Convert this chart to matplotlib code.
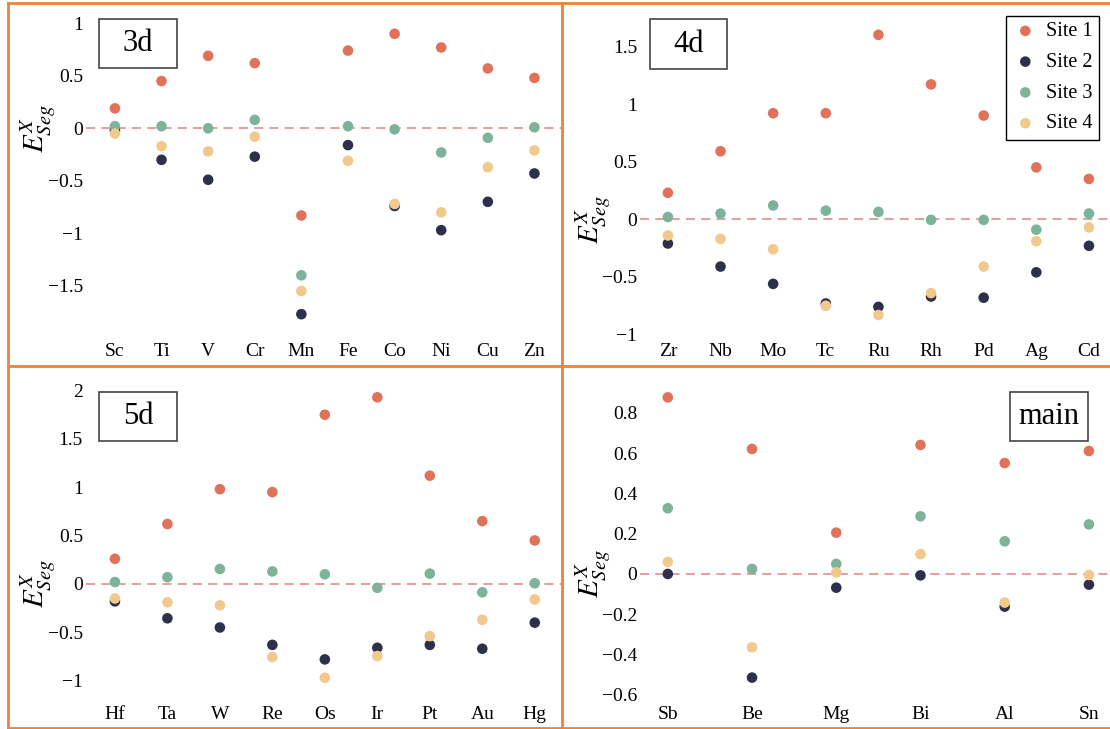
import matplotlib
matplotlib.use("Agg")
import matplotlib.pyplot as plt
from matplotlib.lines import Line2D
from matplotlib.patches import Rectangle
from matplotlib.transforms import blended_transform_factory

plt.rcParams["font.family"] = ["Liberation Serif", "DejaVu Serif"]
plt.rcParams["mathtext.fontset"] = "stix"

# segregation energies per solute, four sites each
elements_3d = ["Sc", "Ti", "V", "Cr", "Mn", "Fe", "Co", "Ni", "Cu", "Zn"]
site1_3d = [0.19, 0.45, 0.69, 0.62, -0.83, 0.74, 0.90, 0.77, 0.57, 0.48]
site2_3d = [-0.02, -0.30, -0.49, -0.27, -1.77, -0.16, -0.74, -0.97, -0.70, -0.43]
site3_3d = [0.02, 0.02, 0.00, 0.08, -1.40, 0.02, -0.01, -0.23, -0.09, 0.01]
site4_3d = [-0.05, -0.17, -0.22, -0.08, -1.55, -0.31, -0.72, -0.80, -0.37, -0.21]

elements_4d = ["Zr", "Nb", "Mo", "Tc", "Ru", "Rh", "Pd", "Ag", "Cd"]
site1_4d = [0.23, 0.59, 0.92, 0.92, 1.60, 1.17, 0.90, 0.45, 0.35]
site2_4d = [-0.21, -0.41, -0.56, -0.73, -0.76, -0.67, -0.68, -0.46, -0.23]
site3_4d = [0.02, 0.05, 0.12, 0.075, 0.064, -0.005, -0.005, -0.09, 0.05]
site4_4d = [-0.14, -0.17, -0.26, -0.75, -0.83, -0.64, -0.41, -0.19, -0.07]

elements_5d = ["Hf", "Ta", "W", "Re", "Os", "Ir", "Pt", "Au", "Hg"]
site1_5d = [0.26, 0.62, 0.98, 0.95, 1.75, 1.93, 1.12, 0.65, 0.45]
site2_5d = [-0.18, -0.355, -0.45, -0.63, -0.78, -0.66, -0.63, -0.67, -0.40]
site3_5d = [0.02, 0.07, 0.155, 0.13, 0.10, -0.04, 0.107, -0.086, 0.007]
site4_5d = [-0.15, -0.19, -0.22, -0.755, -0.97, -0.745, -0.54, -0.37, -0.16]

elements_main = ["Sb", "Be", "Mg", "Bi", "Al", "Sn"]
site1_main = [0.876, 0.62, 0.205, 0.64, 0.55, 0.61]
site2_main = [0.0, -0.514, -0.068, -0.007, -0.162, -0.053]
site3_main = [0.326, 0.025, 0.05, 0.286, 0.162, 0.246]
site4_main = [0.06, -0.364, 0.008, 0.098, -0.142, -0.005]

site_names = ["Site 1", "Site 2", "Site 3", "Site 4"]
colors = ["#E0725A", "#2D2F4D", "#7DB39A", "#F2C98C"]

W, H = 1110, 729
fig = plt.figure(figsize=(W / 100, H / 100), dpi=100)


def px_rect(left, top, right, bottom):
    # pixel box -> figure fraction [x, y, w, h]
    return [left / W, 1 - bottom / H, (right - left) / W, (bottom - top) / H]


# panel layout: (group, elements, series, axes box, xlim, ylim, yticks, tag box, ylabel x)
panels = [
    ("3d", elements_3d, [site1_3d, site2_3d, site3_3d, site4_3d],
     (85.7, 15, 561, 340), (-0.627, 9.57), (-2.016, 1.079),
     [-1.5, -1, -0.5, 0, 0.5, 1], (99, 19, 177, 68), 38),
    ("4d", elements_4d, [site1_4d, site2_4d, site3_4d, site4_4d],
     (640, 15, 1110, 340), (-0.53, 8.4), (-1.047, 1.772),
     [-1, -0.5, 0, 0.5, 1, 1.5], (650, 19, 727, 69), 593),
    ("5d", elements_5d, [site1_5d, site2_5d, site3_5d, site4_5d],
     (85.7, 378, 561, 703), (-0.557, 8.5), (-1.231, 2.13),
     [-1, -0.5, 0, 0.5, 1, 1.5, 2], (99, 392, 177, 441), 38),
    ("main", elements_main, [site1_main, site2_main, site3_main, site4_main],
     (640, 378, 1110, 703), (-0.33, 5.25), (-0.64, 0.972),
     [-0.6, -0.4, -0.2, 0, 0.2, 0.4, 0.6, 0.8], (1010, 392, 1088, 441), 593),
]

axes = []
for tag, elems, series, box, xlim, ylim, yticks, tagbox, lab_x in panels:
    ax = fig.add_axes(px_rect(*box))
    x = list(range(len(elems)))
    for vals, name, c in zip(series, site_names, colors):
        ax.scatter(x, vals, s=58, color=c, edgecolors="none", label=name, zorder=3)
    ax.axhline(0, color="#DE8584", lw=1.1, ls=(0, (6, 4)), zorder=1)

    ax.set_xlim(*xlim)
    ax.set_ylim(*ylim)
    ax.set_xticks(x)
    ax.set_xticklabels(elems)
    ax.set_yticks(yticks)
    ax.set_yticklabels([f"{t:g}".replace("-", "\u2212") for t in yticks])
    ax.tick_params(length=0, labelsize=14, pad=2)
    for sp in ax.spines.values():
        sp.set_visible(False)

    # axis label centred level with the zero line
    ax.set_ylabel(r"$E^{X}_{Seg}$", fontsize=21)
    ax.yaxis.label.set_verticalalignment("center")
    ax.yaxis.set_label_coords(lab_x / W, 0,
                              transform=blended_transform_factory(fig.transFigure, ax.transData))

    # group tag in a framed box
    l, t, r, b = tagbox
    fig.add_artist(Rectangle((l / W, 1 - b / H), (r - l) / W, (b - t) / H,
                             transform=fig.transFigure, fill=False,
                             edgecolor="#444444", lw=1.2))
    fig.text((l + r) / 2 / W, 1 - (t + b) / 2 / H, tag, fontsize=22,
             ha="center", va="center")
    axes.append(ax)

leg = axes[1].legend(loc="upper right", bbox_to_anchor=(1099 / W, 1 - 16 / H),
                     bbox_transform=fig.transFigure, borderaxespad=0,
                     fontsize=14.5, fancybox=False, framealpha=1,
                     edgecolor="black", handlelength=1.3, handletextpad=0.4,
                     labelspacing=0.58, borderpad=0.3)
leg.get_frame().set_linewidth(1.0)

# orange panel dividers
frame_c = "#E9843F"
for (x0, y0, x1, y1) in [(8, 3, 1110, 3), (8, 366, 1110, 366), (8, 728, 1110, 728),
                         (8, 3, 8, 728), (562, 3, 562, 728)]:
    fig.add_artist(Line2D([x0 / W, x1 / W], [1 - y0 / H, 1 - y1 / H],
                          transform=fig.transFigure, color=frame_c, lw=2))

fig.savefig("out.png", dpi=100, facecolor="white")
